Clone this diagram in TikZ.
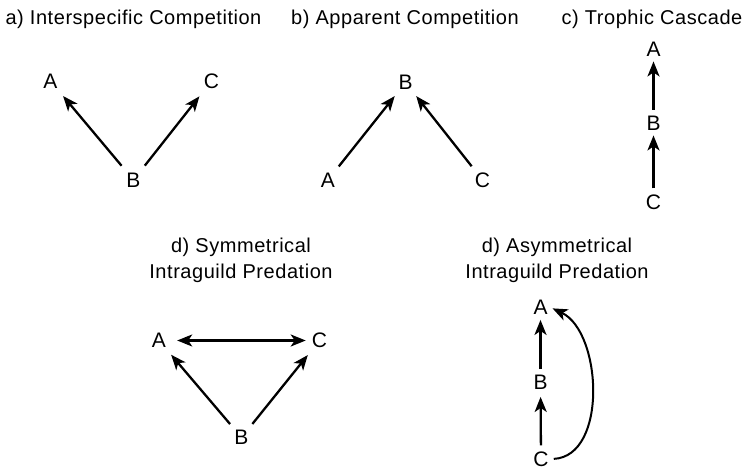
\documentclass[tikz,border=0pt]{standalone}
\usepackage{fontspec}
\setmainfont{Liberation Sans}
\usetikzlibrary{arrows.meta}
\begin{document}
\begin{tikzpicture}[x=1pt, y=-1pt,
		sp/.style={font=\fontsize{21}{24}\selectfont, inner sep=3pt},
		ttl/.style={font=\fontsize{20}{26}\selectfont\addfontfeatures{LetterSpace=2.7}, align=center, inner sep=0pt},
		tip/.tip={Stealth[length=15pt, width=12pt, inset=4pt]},
		link/.style={line width=2.3pt, -tip, shorten <=5pt, shorten >=6pt},
		uplink/.style={line width=2.3pt, -tip, shorten <=3pt, shorten >=2pt}]
	\useasboundingbox (0,0) rectangle (747,470);
	% panel titles, top row on one baseline
	\node[ttl, anchor=base] (ta) at (133.5,25) {a) Interspecific Competition};
	\node[ttl, anchor=base] (tb) at (405,25) {b) Apparent Competition};
	\node[ttl, anchor=base] (tc) at (652,25) {c) Trophic Cascade};
	\node[ttl] (td) at (241,260) {d) Symmetrical\\Intraguild Predation};
	\node[ttl] (te) at (557,260) {d) Asymmetrical\\Intraguild Predation};
	% a) B feeds both A and C
	\node[sp] (aA) at (50.5,81) {A};
	\node[sp] (aC) at (211.5,81) {C};
	\node[sp] (aB) at (133.5,180) {B};
	\draw[link] (aB) -- (aA);
	\draw[link] (aB) -- (aC);
	% b) both prey feed B
	\node[sp] (bB) at (405.5,82.5) {B};
	\node[sp] (bA) at (328,180) {A};
	\node[sp] (bC) at (482.5,180) {C};
	\draw[link, shorten <=4pt, shorten >=4pt] (bA) -- (bB);
	\draw[link, shorten <=4pt, shorten >=4pt] (bC) -- (bB);
	% c) a simple chain
	\node[sp] (cA) at (653.5,49) {A};
	\node[sp] (cB) at (653.5,123) {B};
	\node[sp] (cC) at (653.5,202) {C};
	\draw[uplink] (cB) -- (cA);
	\draw[uplink] (cC) -- (cB);
	% d) A and C eat each other
	\node[sp] (dA) at (159,340.5) {A};
	\node[sp] (dC) at (319.5,340.5) {C};
	\node[sp] (dB) at (241.5,437.5) {B};
	\draw[line width=2.3pt, tip-tip, shorten <=8pt, shorten >=3pt] (dA) -- (dC);
	\draw[link, shorten <=4pt, shorten >=5pt] (dB) -- (dA);
	\draw[link, shorten <=4pt, shorten >=5pt] (dB) -- (dC);
	% e) chain plus a shortcut from C up to A
	\node[sp] (eA) at (540.5,307.5) {A};
	\node[sp] (eB) at (540.5,382.5) {B};
	\node[sp] (eC) at (541,459) {C};
	\draw[uplink] (eB) -- (eA);
	\draw[uplink, shorten <=3pt, shorten >=4pt] (eC) -- (eB);
	\draw[line width=2pt, -tip, shorten <=2pt, shorten >=2pt] (eC.east) .. controls (608,456) and (602,332) .. (eA.east);
\end{tikzpicture}
\end{document}
